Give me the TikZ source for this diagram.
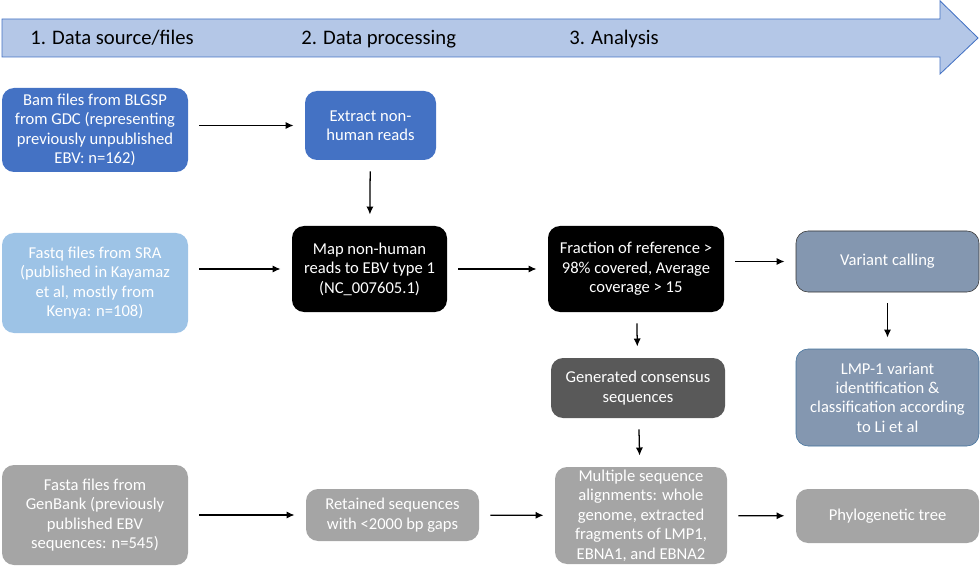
\documentclass[tikz,border=0pt]{standalone}
\usepackage{fontspec}
\setmainfont{Carlito}
\usetikzlibrary{arrows.meta}

\definecolor{bamblue}{HTML}{4472C4}
\definecolor{sralight}{HTML}{9DC3E6}
\definecolor{slateblue}{HTML}{8497B0}
\definecolor{lmpedge}{HTML}{41719C}
\definecolor{darkgrey}{HTML}{595959}
\definecolor{midgrey}{HTML}{A5A5A5}
\definecolor{bandblue}{HTML}{B4C7E7}

\begin{document}
\begin{tikzpicture}[
    box/.style={rounded corners=0.3cm, align=center, text=white, inner sep=0pt, font=\fontsize{11.8}{13.8}\selectfont},
    flow/.style={-{Latex[length=2mm,width=1.8mm]}, line width=0.9pt, shorten <=0.28cm, shorten >=0.28cm},
    stage/.style={anchor=base west, inner sep=0pt, font=\fontsize{14.7}{17}\selectfont}
]
    \useasboundingbox (0,0) rectangle (24.5,-14.15);

    % Workflow arrow
    \draw[bamblue, fill=bandblue, line width=0.6pt] (0.05,-0.475) -- (23.5,-0.475) -- (23.5,-0.02)
        -- (24.45,-0.95) -- (23.5,-1.85) -- (23.5,-1.425) -- (0.05,-1.425) -- cycle;
    \node[stage] (stage1) at (0.75,-1.12) {1. Data source/files};
    \node[stage] (stage2) at (7.525,-1.12) {2. Data processing};
    \node[stage] (stage3) at (14.225,-1.12) {3. Analysis};

    % Data sources
    \node[box, fill=bamblue, minimum width=4.65cm, minimum height=2.1cm] (bam) at (2.375,-3.25)
        {Bam files from BLGSP\\from GDC (representing\\previously unpublished\\EBV: n=162)};
    \node[box, fill=sralight, minimum width=4.65cm, minimum height=2.5cm] (fastq) at (2.375,-7.075)
        {Fastq files from SRA\\(published in Kayamaz\\et al, mostly from\\Kenya: n=108)};
    \node[box, fill=midgrey, minimum width=4.65cm, minimum height=2.5cm] (fasta) at (2.375,-12.875)
        {Fasta files from\\GenBank (previously\\published EBV\\sequences: n=545)};

    % Processing
    \node[box, fill=bamblue, minimum width=3.275cm, minimum height=1.725cm] (extract) at (9.2625,-3.1375)
        {Extract non-\\human reads};
    \node[box, fill=black, minimum width=3.875cm, minimum height=2.15cm] (map) at (9.2375,-6.725)
        {Map non-human\\reads to EBV type 1\\(NC\_007605.1)};
    \node[box, fill=midgrey, minimum width=4.325cm, minimum height=1.3cm] (retained) at (9.8125,-12.875)
        {Retained sequences\\with <2000 bp gaps};

    % Analysis
    \node[box, fill=black, minimum width=4.4cm, minimum height=2.15cm] (fraction) at (15.9,-6.725)
        {Fraction of reference >\\98\% covered, Average\\coverage > 15};
    \node[box, fill=darkgrey, minimum width=4.35cm, minimum height=1.5cm] (generated) at (15.95,-9.7)
        {Generated consensus\\sequences};
    \node[box, fill=midgrey, minimum width=4.3cm, minimum height=2.425cm] (multiple) at (16.025,-12.8875)
        {Multiple sequence\\alignments: whole\\genome, extracted\\fragments of LMP1,\\EBNA1, and EBNA2};
    \node[box, fill=slateblue, draw=black!80, minimum width=4.575cm, minimum height=1.525cm] (variant) at (22.1875,-6.5375)
        {Variant calling};
    \node[box, fill=slateblue, draw=lmpedge, minimum width=4.575cm, minimum height=2.425cm] (lmp) at (22.1875,-9.9375)
        {LMP-1 variant\\identification \&\\classification according\\to Li et al};
    \node[box, fill=midgrey, minimum width=4.575cm, minimum height=1.35cm] (phylo) at (22.1875,-12.9)
        {Phylogenetic tree};

    % Connectors
    \draw[flow] (bam.east |- extract) -- (extract);
    \draw[flow] (extract) -- (map);
    \draw[flow] (fastq.east |- map) -- (map);
    \draw[flow] (map) -- (fraction);
    \draw[flow] (fraction.east |- variant) -- (variant);
    \draw[flow] (variant) -- (lmp);
    \draw[flow] (fraction) -- (generated);
    \draw[flow] (generated) -- (multiple);
    \draw[flow] (fasta) -- (retained);
    \draw[flow] (retained) -- (multiple);
    \draw[flow] (multiple) -- (phylo);
\end{tikzpicture}
\end{document}
